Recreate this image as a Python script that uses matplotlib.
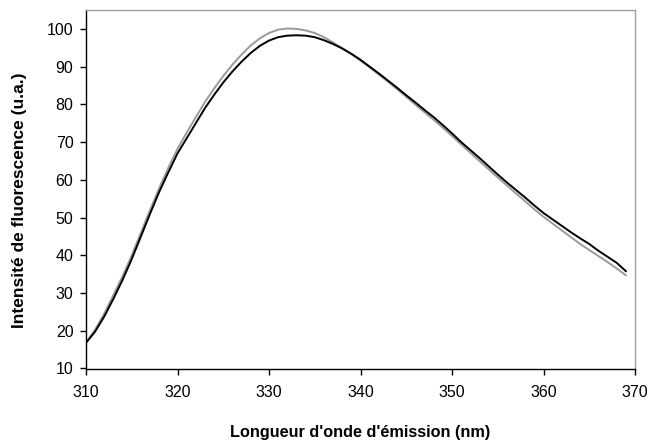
import numpy as np
import matplotlib.pyplot as plt

plt.rcParams['font.family'] = ['Liberation Sans', 'DejaVu Sans']

# longueur d'onde (nm)
wavelength = np.arange(310, 370)

# spectre noir
intensity_black = [16.8, 19.8, 23.8, 28.5, 33.5, 39.0, 45.0, 51.0, 56.8, 62.0,
                   67.0, 71.0, 75.0, 79.0, 82.5, 85.8, 88.7, 91.3, 93.6, 95.5,
                   96.9, 97.8, 98.2, 98.3, 98.2, 97.8, 97.0, 96.0, 94.8, 93.4,
                   91.8, 90.0, 88.2, 86.3, 84.4, 82.4, 80.5, 78.5, 76.6, 74.5,
                   72.3, 70.0, 67.9, 65.8, 63.6, 61.4, 59.3, 57.3, 55.3, 53.2,
                   51.2, 49.5, 47.8, 46.1, 44.5, 43.0, 41.2, 39.6, 38.0, 35.8]

# spectre gris
intensity_gray = [16.8, 20.3, 24.6, 29.5, 34.5, 40.0, 46.0, 52.0, 57.8, 63.2,
                  68.2, 72.5, 76.6, 80.6, 84.2, 87.5, 90.5, 93.2, 95.6, 97.5,
                  98.9, 99.8, 100.1, 100.0, 99.6, 98.9, 97.8, 96.4, 94.9, 93.3,
                  91.6, 89.8, 87.9, 86.0, 84.0, 82.0, 79.9, 77.9, 75.9, 73.8,
                  71.6, 69.4, 67.2, 65.0, 62.8, 60.6, 58.5, 56.4, 54.3, 52.2,
                  50.2, 48.4, 46.6, 44.8, 43.0, 41.4, 39.8, 38.2, 36.5, 34.7]

fig = plt.figure(figsize=(6.48, 4.41), dpi=100)
ax = fig.add_axes([86/648, 1-368.5/441, (635-86)/648, (368.5-10)/441])

ax.plot(wavelength, intensity_gray, color='#9a9a9a', lw=1.4)
ax.plot(wavelength, intensity_black, color='black', lw=1.4)

ax.set_xlim(310, 370)
ax.set_ylim(10, 105)
ax.set_xticks(np.arange(310, 371, 10))
ax.set_yticks(np.arange(10, 101, 10))

for side in ['top', 'right']:
    ax.spines[side].set_color('#a0a0a0')
for side in ['left', 'bottom']:
    ax.spines[side].set_color('black')
for s in ax.spines.values():
    s.set_linewidth(1.0)

ax.tick_params(direction='out', length=4, width=1, labelsize=11.5, colors='black')
ax.tick_params(axis='y', pad=5)
ax.tick_params(axis='x', pad=8)

ax.set_xlabel("Longueur d'onde d'émission (nm)", fontsize=11.7, fontweight='bold', va='center')
ax.set_ylabel("Intensité de fluorescence (u.a.)", fontsize=12.5, fontweight='bold', va='center')
ax.xaxis.set_label_coords(0.5, -(432 - 368.5) / 358.5)
ax.yaxis.set_label_coords(-(86 - 20) / 549, (368.5 - 200) / 358.5)

fig.savefig('out.png', dpi=100)
